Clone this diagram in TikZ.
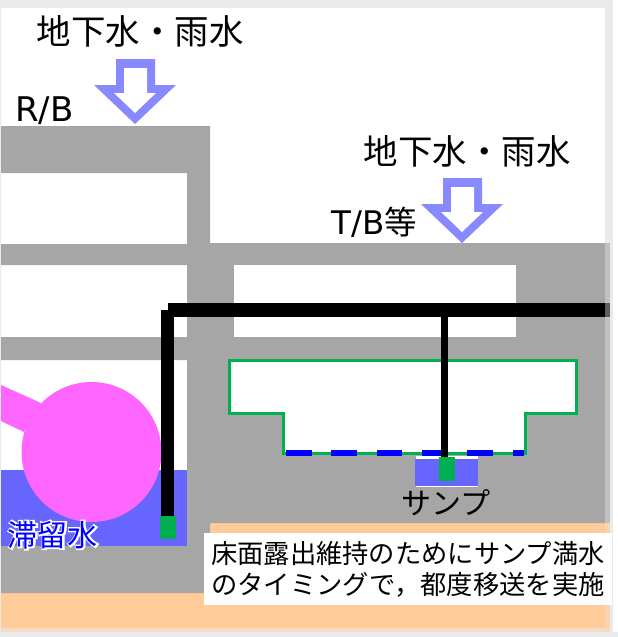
\documentclass[tikz,border=0pt]{standalone}
\usepackage{fontspec}
\setmainfont{Noto Sans CJK JP}
\newfontfamily\latinlab{DejaVu Sans}
\newfontface\halofont{Noto Sans CJK JP}[FakeBold=10]
\definecolor{wall}{HTML}{A6A6A6}
\definecolor{frameg}{HTML}{E9EAEC}
\definecolor{peach}{HTML}{FFCC99}
\definecolor{water}{HTML}{6666FF}
\definecolor{pinkish}{HTML}{FF66FF}
\definecolor{arrowb}{HTML}{8888FF}
\definecolor{pumpg}{HTML}{00B050}
\tikzset{
  x=1pt,y=-1pt,
  wallfill/.style={fill=wall,draw=none},
  pipe/.style={fill=black,draw=none},
  pump/.style={fill=pumpg,draw=none},
  lab/.style={inner sep=0pt,anchor=center,text=black},
  rain/.style={lab,font=\fontsize{34.5}{34.5}\selectfont},
  mid/.style={lab,font=\fontsize{30}{30}\selectfont},
  note/.style={lab,font=\fontsize{26.3}{31}\selectfont,align=center},
}
\newcommand{\hollowarrow}[2]{%
  \begin{scope}[shift={(#1,#2)}]
    \fill[arrowb] (116,59) -- (155,59) -- (155,85) -- (176,85) -- (135,124) -- (94,85) -- (116,85) -- cycle;
    \fill[white] (124,68) -- (147,68) -- (147,93) -- (156,93) -- (135,113) -- (114,93) -- (124,93) -- cycle;
  \end{scope}}
\begin{document}
\begin{tikzpicture}
\useasboundingbox (0,0) rectangle (618,637);
% frame
\fill[frameg] (0,0) -- (609,0) arc[start angle=90,end angle=0,x radius=4pt,y radius=-4pt] -- (613,632) -- (618,632) -- (618,637) -- (0,637) -- cycle;
\fill[white] (618,0) -- (609,0) arc[start angle=90,end angle=0,x radius=4pt,y radius=-4pt] -- (613,632) -- (618,632) -- cycle;
\fill[white] (1,8) rectangle (605,628);
% ground
\fill[peach] (1,593) rectangle (605,628);
\fill[peach] (210,523) rectangle (605,593);
\fill[peach!70!frameg] (605,523) rectangle (610,628);
\fill[peach!50!frameg] (1,628) rectangle (610,632);
% building walls
\fill[wallfill] (1,126) -- (210,126) -- (210,243) -- (605,243) -- (605,523) -- (210,523) -- (210,593) -- (1,593) -- (1,546) -- (187,546) -- (187,360) -- (1,360) -- (1,337) -- (187,337) -- (187,265) -- (1,265) -- (1,244) -- (187,244) -- (187,173) -- (1,173) -- cycle;
\fill[wall!60!frameg] (605,243) rectangle (610,523);
\fill[white] (234,265) rectangle (516,337);
% water and tank
\fill[water] (1,470) rectangle (187,546);
\fill[pinkish] (1,385) -- (41,403) -- (24,432) -- (1,421) -- cycle;
\fill[pinkish] (91.5,452) circle[radius=70];
% sump room
\draw[fill=white,draw=pumpg,line width=3pt,miter limit=10] (229,360) -- (576,360) -- (576,413) -- (525,413) -- (525,453) -- (283,453) -- (283,413) -- (229,413) -- cycle;
\foreach \a/\b in {286/312,331/357,377/402,422/448,467/493,513/524}
  \fill[blue] (\a,450) rectangle (\b,456);
\fill[white] (416,456) rectangle (478,487);
\fill[water] (415,459) rectangle (478,486);
% arrows
\hollowarrow{0}{0}
\hollowarrow{327}{119}
% pipes
\fill[pipe] (441,310) rectangle (448,458);
\fill[pipe] (161,310) rectangle (174,517);
\fill[pipe] (168,303) rectangle (605,317);
\fill[black!60!frameg] (605,303) rectangle (610,317);
\node[pump,minimum width=16pt,minimum height=23pt,inner sep=0pt] (pumpA) at (168,527.5) {};
\node[pump,minimum width=16pt,minimum height=24pt,inner sep=0pt] (pumpB) at (447,469) {};
% labels
\node[rain] (rainA) at (140,31) {地下水・雨水};
\node[rain] (rainB) at (467,151) {地下水・雨水};
\node[lab,font=\fontsize{34}{34}\selectfont\latinlab] (rb) at (44.5,111) {R/B};
\node[lab,font=\fontsize{32.5}{32.5}\selectfont] (tb) at (374,222) {{\latinlab T/B}等};
\node[mid] (sump) at (446,503) {サンプ};
\node[lab,font=\fontsize{30}{30}\selectfont] (stagnant) at (53,535) {\rlap{\textcolor{white}{\halofont 滞留水}}\textcolor{blue}{滞留水}};
\node[note,fill=white,minimum width=408pt,minimum height=72pt] (msg) at (408,569) {床面露出維持のためにサンプ満水\\のタイミングで，都度移送を実施};
\end{tikzpicture}
\end{document}
